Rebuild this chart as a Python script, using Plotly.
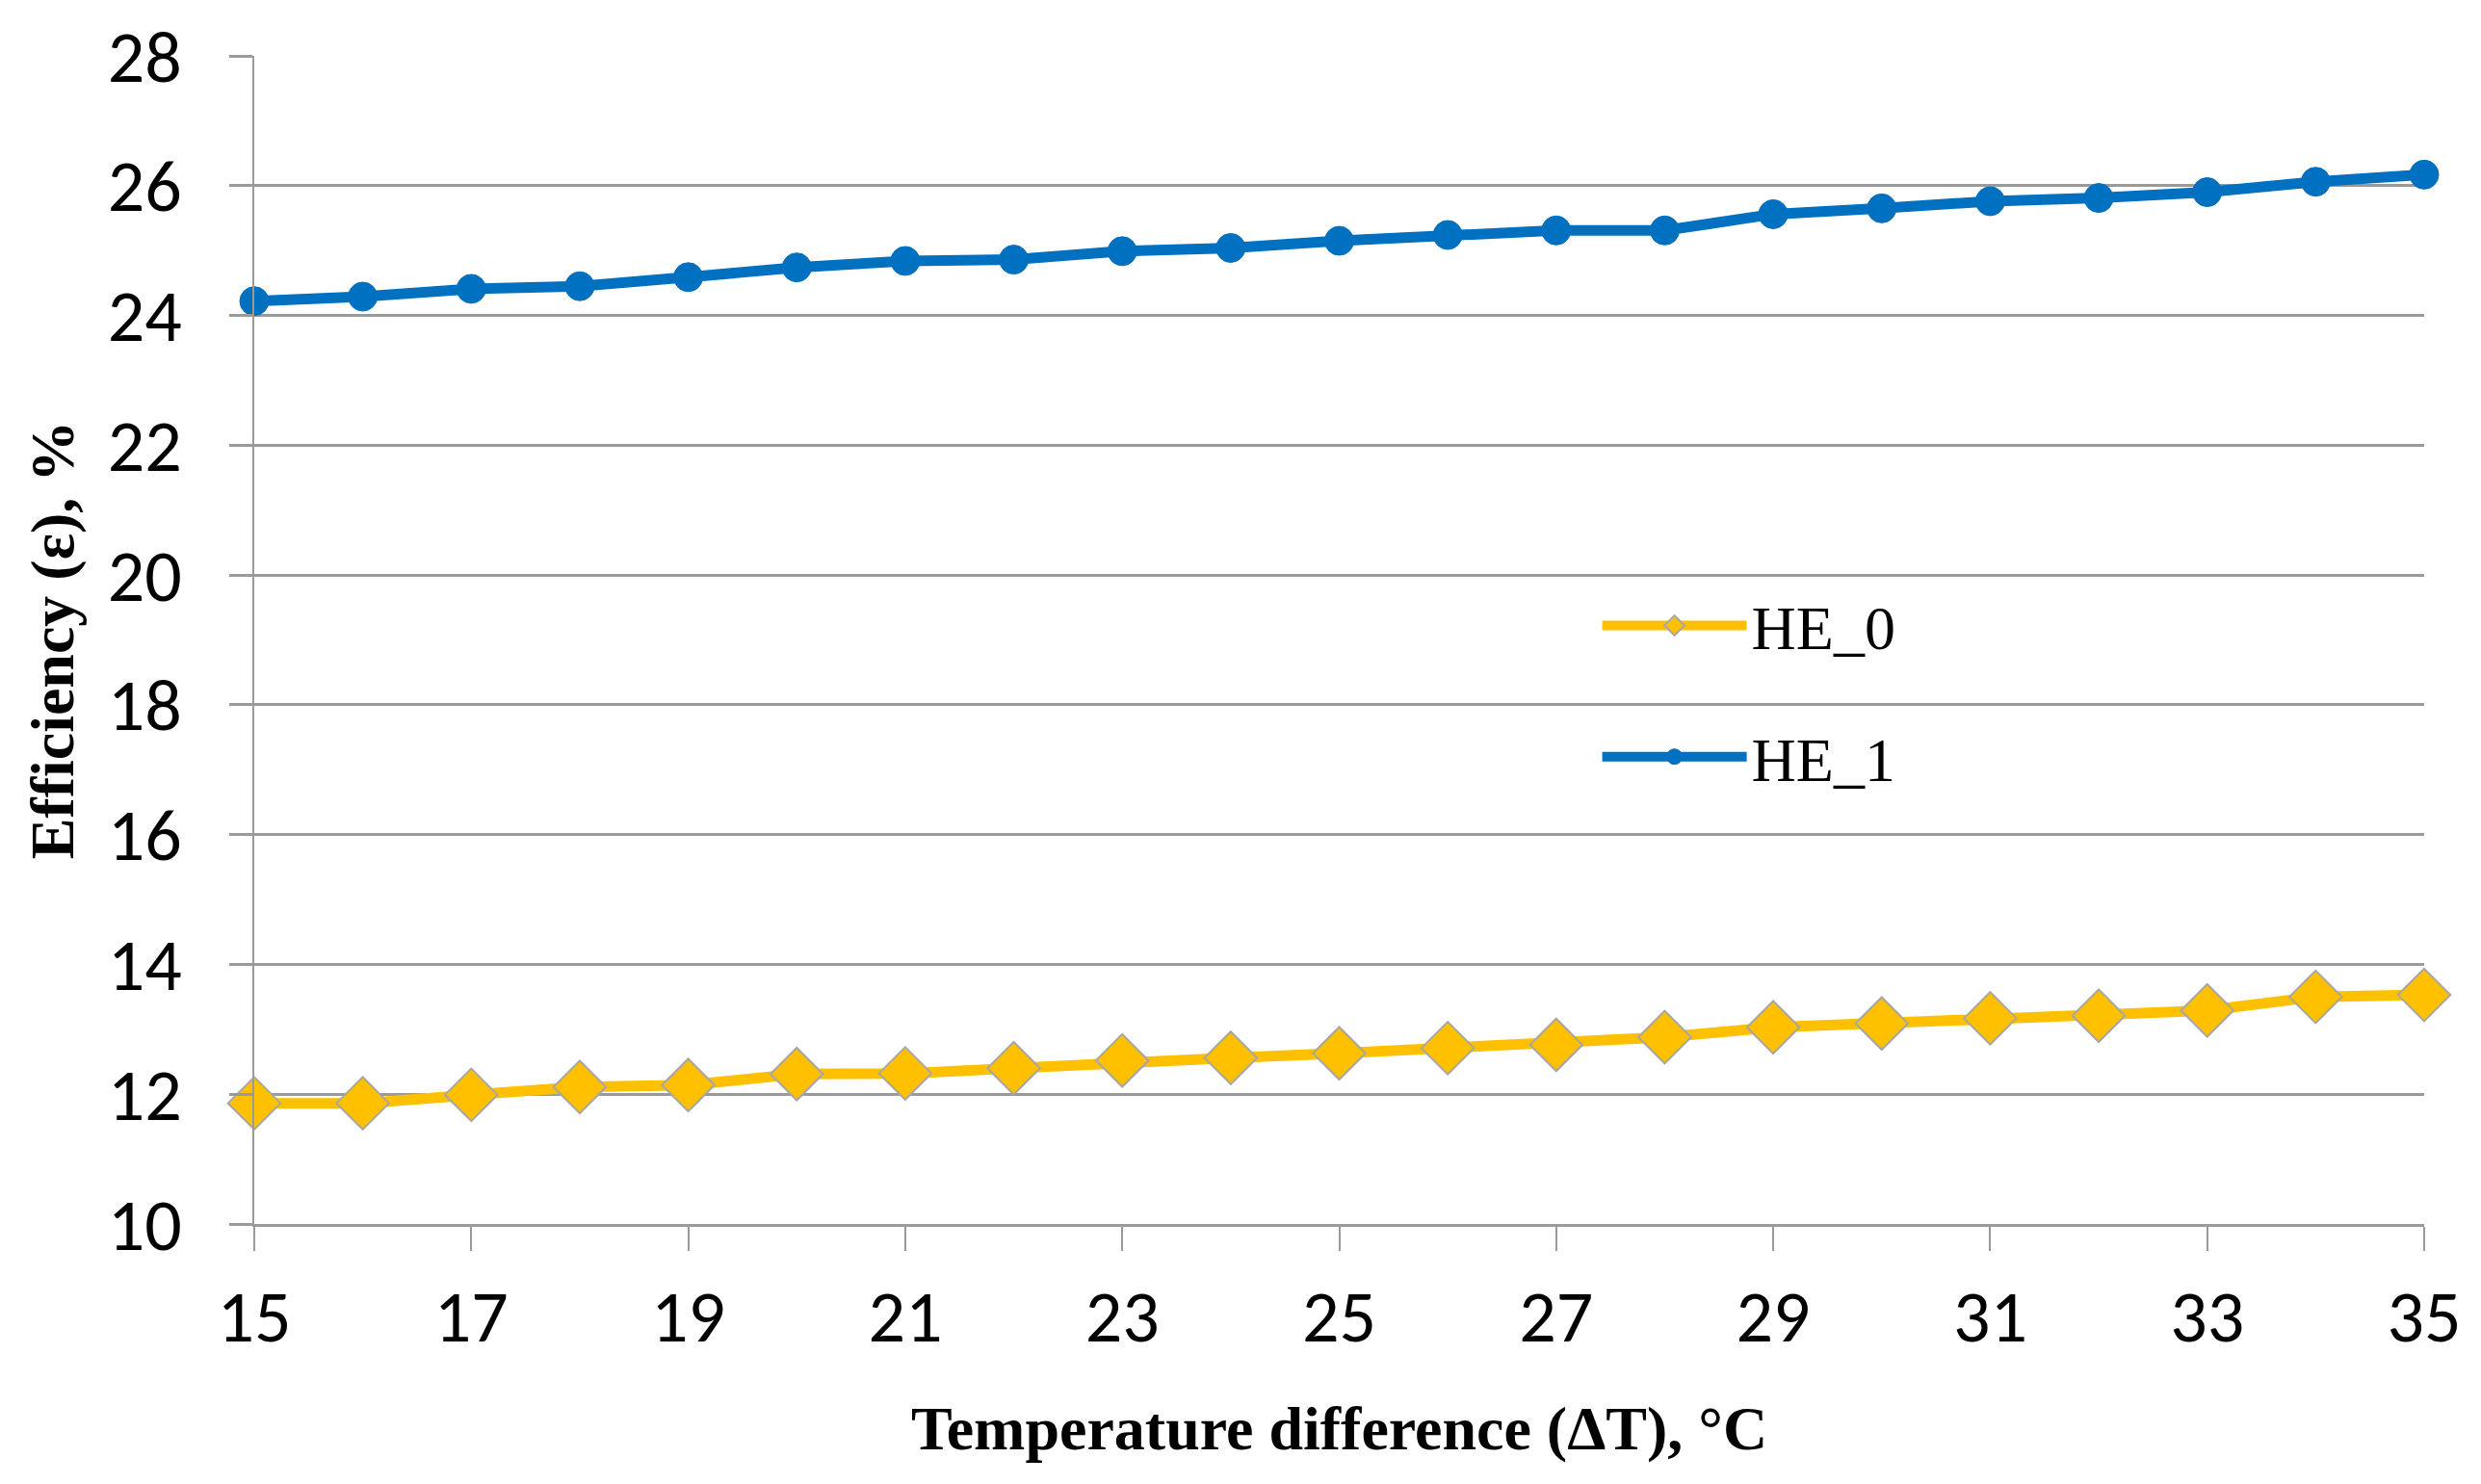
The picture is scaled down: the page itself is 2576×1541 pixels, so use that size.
import plotly.graph_objects as go

temperature_diff = list(range(15, 36))
he0_efficiency = [11.86, 11.86, 11.99, 12.11, 12.14, 12.31, 12.32, 12.40, 12.52, 12.56,
                  12.63, 12.71, 12.76, 12.88, 13.03, 13.09, 13.17, 13.21, 13.29, 13.50, 13.53]
he1_efficiency = [24.22, 24.29, 24.41, 24.45, 24.59, 24.74, 24.84, 24.86, 24.99, 25.04,
                  25.15, 25.24, 25.31, 25.31, 25.56, 25.65, 25.76, 25.81, 25.90, 26.06, 26.17]
x_tick_values = list(range(15, 36, 2))
y_tick_values = list(range(10, 29, 2))

GRID = "#9a9a9a"
TICK_FONT = "Carlito, Liberation Sans, Arial, sans-serif"
SERIF = "Liberation Serif, DejaVu Serif, serif"

fig = go.Figure()
fig.add_trace(go.Scatter(
    x=temperature_diff, y=he0_efficiency, name="HE_0", mode="lines+markers",
    legendgroup="a", cliponaxis=False,
    line=dict(color="#FFC000", width=11),
    marker=dict(symbol="diamond", size=42, color="#FFC000",
                line=dict(color="#A6A6A6", width=2)),
))
fig.add_trace(go.Scatter(
    x=temperature_diff, y=he1_efficiency, name="HE_1", mode="lines+markers",
    legendgroup="b", cliponaxis=False,
    line=dict(color="#0070C0", width=11),
    marker=dict(symbol="circle", size=30, color="#0070C0",
                line=dict(color="#0070C0", width=1)),
))

fig.update_layout(
    width=2576, height=1541,
    margin=dict(l=264, r=59, t=58, b=270),
    paper_bgcolor="white", plot_bgcolor="white",
    showlegend=True,
    legend=dict(
        x=0.619, y=0.552, xanchor="left", yanchor="top",
        font=dict(family=SERIF, size=64, color="black"),
        bgcolor="rgba(0,0,0,0)",
        traceorder="grouped", tracegroupgap=50,
        itemwidth=150,
    ),
)
fig.update_xaxes(
    range=[15, 35], tickvals=x_tick_values,
    showgrid=False, zeroline=False,
    showline=True, linecolor=GRID, linewidth=3,
    ticks="outside", ticklen=25, tickwidth=2, tickcolor=GRID,
    ticklabelstandoff=3,
    tickfont=dict(family=TICK_FONT, size=76, color="black"),
    title=dict(text="<b>Temperature difference (ΔT), °C</b>",
               font=dict(family=SERIF, size=64, color="black"), standoff=48),
)
fig.update_yaxes(
    range=[10, 28], tickvals=y_tick_values,
    showgrid=True, gridcolor=GRID, gridwidth=3, zeroline=False,
    showline=True, linecolor=GRID, linewidth=2,
    ticks="outside", ticklen=24, tickwidth=3, tickcolor=GRID,
    ticklabelstandoff=34,
    tickfont=dict(family=TICK_FONT, size=76, color="black"),
    title=dict(text="<b>Efficiency (ε), %</b>",
               font=dict(family=SERIF, size=64, color="black"), standoff=14),
)

fig.write_html("out.html", config={"displayModeBar": False},
               post_script="document.body.style.margin='0';")
